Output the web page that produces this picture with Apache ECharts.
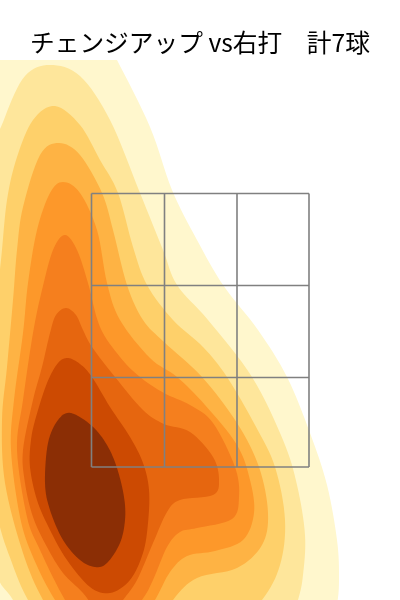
<!DOCTYPE html>
<html><head><meta charset="utf-8">
<style>html,body{margin:0;padding:0;background:#fff}#c{width:400px;height:600px}</style>
<script src="https://cdn.jsdelivr.net/npm/echarts@6/dist/echarts.min.js"></script>
</head><body><div id="c"></div>
<script>
const titleText = 'チェンジアップ vs右打　計7球';
const levelColors = ['#fff7cd','#fee69b','#fed06a','#feb344','#fd982a','#f57f1e','#e6660f','#cc4a02','#8b2e05'];
const level1 = [[-60,0],[70,-20],[100,30],[117,60],[150,127],[172,190],[197,240],[223,285],[258,330],[287,377],[310,433],[327,485],[337,540],[339,577],[337,605],[328,650],[290,700],[-60,680],[-90,300]];
const level2 = [[50,65],[80,76],[110,120],[140,193],[163,250],[177,285],[208,320],[252,377],[283,440],[297,485],[305,535],[303,575],[298,600],[285,640],[150,680],[40,640],[13,600],[-10,550],[-35,350],[-10,170],[5,117],[25,76]];
const level3 = [[55,106],[80,125],[100,160],[118,193],[133,247],[147,285],[173,320],[203,347],[227,377],[255,425],[275,467],[285,520],[280,565],[262,600],[225,640],[55,640],[28,600],[12,563],[-3,515],[-20,420],[-5,310],[1,260],[7,200],[17,157],[33,120]];
const level4 = [[59,143],[80,155],[102,193],[113,230],[127,285],[143,320],[164,342],[202,377],[237,423],[259,467],[268,513],[262,545],[237,568],[197,578],[173,600],[150,640],[70,640],[43,600],[23,553],[5,483],[2,420],[7,367],[13,300],[17,250],[23,207],[40,155]];
const level5 = [[63,182],[80,193],[97,230],[107,283],[120,320],[150,358],[177,377],[205,405],[237,445],[250,480],[254,513],[243,540],[215,551],[187,556],[170,572],[155,600],[135,630],[80,630],[55,600],[33,557],[20,517],[11,450],[14,400],[23,333],[28,283],[37,230],[50,193]];
const level6 = [[65,235],[77,250],[88,283],[100,327],[120,357],[140,377],[164,393],[190,405],[213,423],[235,467],[239,497],[232,519],[197,528],[180,532],[167,547],[153,580],[142,600],[115,635],[90,635],[65,600],[40,550],[27,517],[17,450],[23,400],[33,333],[42,290],[53,250]];
const level7 = [[66,308],[76,315],[83,330],[92,347],[115,377],[143,410],[164,424],[190,432],[213,457],[219,480],[213,495],[180,500],[167,512],[153,543],[137,580],[123,600],[105,625],[95,610],[83,593],[63,573],[47,547],[33,517],[25,483],[23,450],[33,400],[42,367],[50,333],[56,315]];
const level8 = [[68,358],[80,364],[92,377],[110,407],[130,437],[143,463],[149,490],[148,523],[143,553],[130,580],[110,593],[90,587],[67,560],[50,530],[37,500],[30,467],[31,440],[36,417],[47,383],[58,363]];
const level9 = [[71,413],[92,426],[107,445],[117,468],[124,497],[125,520],[120,543],[107,563],[95,567],[80,560],[63,540],[50,510],[45,483],[48,443],[58,420]];
const contourLevels = [level1,level2,level3,level4,level5,level6,level7,level8,level9];
const zoneX = [91.5,164.5,237,309];
const zoneY = [193.5,285.5,377.5,467];

// Rounds a read-off outline at draw time (screen-space Catmull-Rom curve through the read points).
function roundOutline(pts){
  const n = pts.length, out = [], steps = 8;
  for (let i=0;i<n;i++){
    const a=pts[(i-1+n)%n],b=pts[i],c=pts[(i+1)%n],d=pts[(i+2)%n];
    for (let k=0;k<steps;k++){
      const t=k/steps,t2=t*t,t3=t2*t;
      const f=j=>0.5*(2*b[j]+(c[j]-a[j])*t+(2*a[j]-5*b[j]+4*c[j]-d[j])*t2+(3*b[j]-a[j]-3*c[j]+d[j])*t3);
      out.push([f(0),f(1)]);
    }
  }
  return out;
}

const gridSeries = [];
zoneX.forEach(x => gridSeries.push({type:'line',data:[[x,zoneY[0]],[x,zoneY[3]]],showSymbol:false,silent:true,z:5,lineStyle:{color:'#808080',width:1.6}}));
zoneY.forEach(y => gridSeries.push({type:'line',data:[[zoneX[0],y],[zoneX[3],y]],showSymbol:false,silent:true,z:5,lineStyle:{color:'#808080',width:1.6}}));

const contourSeries = contourLevels.map((pts,i) => ({
  type:'custom', coordinateSystem:'cartesian2d', clip:true, silent:true, z:2,
  data: pts,
  encode:{x:0,y:1},
  renderItem:(params,api) => {
    if (params.dataIndex !== 0) return null;
    return {type:'polygon',shape:{points:roundOutline(pts.map(p=>api.coord(p)))},style:{fill:levelColors[i]}};
  }
}));

const chart = echarts.init(document.getElementById('c'),null,{renderer:'canvas'});
chart.setOption({
  animation:false,
  backgroundColor:'#fff',
  title:{text:titleText,left:'center',top:25,textStyle:{fontFamily:'"Noto Sans CJK JP"',fontWeight:'normal',fontSize:24.7,color:'#000'}},
  grid:{left:0,right:0,top:60,bottom:0},
  xAxis:{type:'value',min:0,max:400,show:false},
  yAxis:{type:'value',min:60,max:600,inverse:true,show:false},
  series:[...contourSeries,...gridSeries]
});
</script></body></html>
